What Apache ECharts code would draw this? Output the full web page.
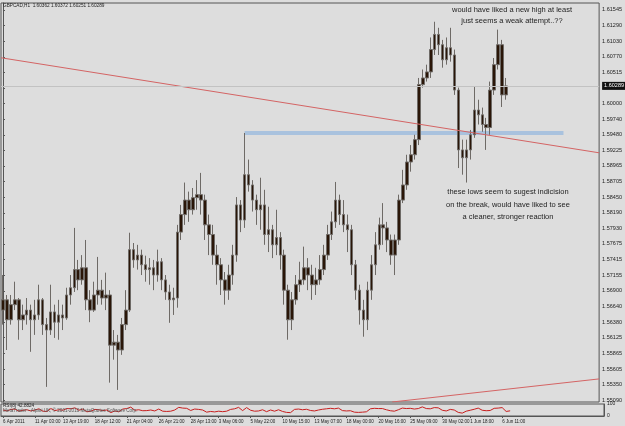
<!DOCTYPE html>
<html>
<head>
<meta charset="utf-8">
<script src="https://cdn.jsdelivr.net/npm/echarts@6/dist/echarts.min.js"></script>
<style>
  html, body { margin: 0; padding: 0; background: #dddddd; }
  #chart { width: 625px; height: 426px; }
</style>
</head>
<body>
<div id="chart"></div>
<script>
const candles = [
  [1.5658, 1.5675, 1.5634, 1.5716], [1.5675, 1.5642, 1.5592, 1.5683], [1.5642, 1.5667, 1.5634, 1.5683],
  [1.5667, 1.5675, 1.5658, 1.5705], [1.5675, 1.5642, 1.5609, 1.5678], [1.5642, 1.5650, 1.5625, 1.5667],
  [1.5650, 1.5658, 1.5634, 1.5678], [1.5658, 1.5642, 1.5589, 1.5667], [1.5642, 1.5650, 1.5617, 1.5675],
  [1.5650, 1.5675, 1.5642, 1.5700], [1.5675, 1.5634, 1.5617, 1.5678], [1.5634, 1.5625, 1.5531, 1.5645],
  [1.5625, 1.5655, 1.5617, 1.5700], [1.5655, 1.5638, 1.5612, 1.5667], [1.5638, 1.5650, 1.5609, 1.5675],
  [1.5650, 1.5645, 1.5625, 1.5667], [1.5645, 1.5683, 1.5642, 1.5695], [1.5683, 1.5695, 1.5667, 1.5716],
  [1.5695, 1.5725, 1.5688, 1.5794], [1.5725, 1.5708, 1.5691, 1.5741], [1.5708, 1.5728, 1.5700, 1.5749],
  [1.5728, 1.5675, 1.5658, 1.5774], [1.5675, 1.5658, 1.5638, 1.5691], [1.5658, 1.5683, 1.5655, 1.5705],
  [1.5683, 1.5691, 1.5667, 1.5746], [1.5691, 1.5678, 1.5667, 1.5708], [1.5678, 1.5683, 1.5658, 1.5720],
  [1.5683, 1.5600, 1.5538, 1.5691], [1.5600, 1.5605, 1.5576, 1.5625], [1.5605, 1.5592, 1.5526, 1.5617],
  [1.5592, 1.5634, 1.5584, 1.5645], [1.5634, 1.5658, 1.5625, 1.5691], [1.5658, 1.5758, 1.5655, 1.5786],
  [1.5758, 1.5741, 1.5728, 1.5769], [1.5741, 1.5749, 1.5725, 1.5766], [1.5749, 1.5733, 1.5716, 1.5758],
  [1.5733, 1.5725, 1.5705, 1.5748], [1.5725, 1.5728, 1.5700, 1.5744], [1.5728, 1.5716, 1.5691, 1.5741],
  [1.5716, 1.5738, 1.5705, 1.5758], [1.5738, 1.5708, 1.5691, 1.5744], [1.5708, 1.5688, 1.5675, 1.5716],
  [1.5688, 1.5675, 1.5637, 1.5700], [1.5675, 1.5678, 1.5650, 1.5695], [1.5678, 1.5787, 1.5662, 1.5799],
  [1.5787, 1.5816, 1.5774, 1.5832], [1.5816, 1.5840, 1.5799, 1.5869], [1.5840, 1.5824, 1.5804, 1.5854],
  [1.5824, 1.5844, 1.5816, 1.5860], [1.5844, 1.5849, 1.5824, 1.5873], [1.5849, 1.5840, 1.5816, 1.5885],
  [1.5840, 1.5799, 1.5774, 1.5849], [1.5799, 1.5783, 1.5749, 1.5816], [1.5783, 1.5749, 1.5733, 1.5799],
  [1.5749, 1.5733, 1.5700, 1.5766], [1.5733, 1.5708, 1.5683, 1.5744], [1.5708, 1.5691, 1.5667, 1.5721],
  [1.5691, 1.5716, 1.5675, 1.5733], [1.5716, 1.5749, 1.5700, 1.5766], [1.5749, 1.5832, 1.5738, 1.5845],
  [1.5832, 1.5807, 1.5787, 1.5840], [1.5807, 1.5882, 1.5794, 1.5951], [1.5882, 1.5865, 1.5854, 1.5907],
  [1.5865, 1.5840, 1.5821, 1.5873], [1.5840, 1.5824, 1.5799, 1.5849], [1.5824, 1.5832, 1.5791, 1.5877],
  [1.5832, 1.5783, 1.5766, 1.5857], [1.5783, 1.5791, 1.5754, 1.5829], [1.5791, 1.5766, 1.5744, 1.5799],
  [1.5766, 1.5778, 1.5749, 1.5824], [1.5778, 1.5749, 1.5725, 1.5787], [1.5749, 1.5691, 1.5667, 1.5758],
  [1.5691, 1.5642, 1.5609, 1.5700], [1.5642, 1.5675, 1.5625, 1.5688], [1.5675, 1.5700, 1.5667, 1.5716],
  [1.5700, 1.5708, 1.5688, 1.5738], [1.5708, 1.5728, 1.5700, 1.5763], [1.5728, 1.5716, 1.5691, 1.5744],
  [1.5716, 1.5700, 1.5675, 1.5733], [1.5700, 1.5708, 1.5683, 1.5728], [1.5708, 1.5725, 1.5700, 1.5749],
  [1.5725, 1.5749, 1.5716, 1.5766], [1.5749, 1.5783, 1.5741, 1.5799], [1.5783, 1.5804, 1.5774, 1.5821],
  [1.5804, 1.5840, 1.5794, 1.5870], [1.5840, 1.5816, 1.5799, 1.5849], [1.5816, 1.5799, 1.5787, 1.5840],
  [1.5799, 1.5791, 1.5754, 1.5816], [1.5791, 1.5733, 1.5716, 1.5799], [1.5733, 1.5691, 1.5675, 1.5741],
  [1.5691, 1.5658, 1.5634, 1.5700], [1.5658, 1.5642, 1.5614, 1.5675], [1.5642, 1.5691, 1.5625, 1.5705],
  [1.5691, 1.5733, 1.5675, 1.5749], [1.5733, 1.5766, 1.5716, 1.5787], [1.5766, 1.5799, 1.5758, 1.5811],
  [1.5799, 1.5794, 1.5766, 1.5835], [1.5794, 1.5774, 1.5754, 1.5804], [1.5774, 1.5749, 1.5733, 1.5783],
  [1.5749, 1.5774, 1.5716, 1.5783], [1.5774, 1.5840, 1.5766, 1.5849], [1.5840, 1.5865, 1.5835, 1.5890],
  [1.5865, 1.5903, 1.5857, 1.5915], [1.5903, 1.5915, 1.5887, 1.5931], [1.5915, 1.5940, 1.5907, 1.5948],
  [1.5940, 1.6031, 1.5931, 1.6042], [1.6031, 1.6042, 1.6026, 1.6056], [1.6042, 1.6052, 1.6036, 1.6064],
  [1.6052, 1.6089, 1.6042, 1.6109], [1.6089, 1.6114, 1.6080, 1.6135], [1.6114, 1.6097, 1.6080, 1.6125],
  [1.6097, 1.6072, 1.6059, 1.6105], [1.6072, 1.6092, 1.6064, 1.6109], [1.6092, 1.6080, 1.6069, 1.6125],
  [1.6080, 1.6022, 1.6014, 1.6089], [1.6022, 1.5923, 1.5893, 1.6026], [1.5923, 1.5910, 1.5882, 1.5940],
  [1.5910, 1.5923, 1.5869, 1.5940], [1.5923, 1.5948, 1.5907, 1.5956], [1.5948, 1.5989, 1.5943, 1.6027],
  [1.5989, 1.5981, 1.5965, 1.6006], [1.5981, 1.5965, 1.5953, 1.5993], [1.5965, 1.5960, 1.5923, 1.5976],
  [1.5960, 1.6022, 1.5948, 1.6036], [1.6022, 1.6064, 1.6014, 1.6075], [1.6064, 1.6097, 1.6056, 1.6122],
  [1.6097, 1.6014, 1.5994, 1.6105], [1.6014, 1.60289, 1.6006, 1.6042]
]

// RSI sub-window, one value per candle
const rsi = [
  50, 42, 55, 58, 40, 48, 52, 42, 50, 60, 40, 38, 62, 45, 52, 48, 62, 60, 68, 48,
  58, 35, 40, 55, 52, 45, 50, 28, 42, 35, 58, 62, 74, 48, 52, 44, 45, 50, 42, 58,
  40, 38, 40, 50, 72, 66, 64, 46, 58, 55, 50, 32, 38, 34, 40, 36, 40, 55, 60, 72,
  45, 70, 48, 40, 42, 52, 36, 50, 40, 52, 38, 30, 28, 55, 58, 52, 56, 46, 42, 50,
  56, 60, 64, 60, 66, 45, 42, 44, 32, 30, 32, 35, 60, 64, 62, 62, 52, 44, 40, 52,
  66, 62, 64, 58, 62, 76, 62, 60, 70, 68, 48, 42, 55, 50, 30, 24, 40, 48, 56, 66,
  48, 44, 46, 64, 66, 70, 38, 43
]

const priceTicks = [
  1.61545, 1.61290, 1.61030, 1.60770, 1.60515, 1.60255, 1.60000, 1.59740, 1.59480,
  1.59225, 1.58965, 1.58705, 1.58450, 1.58190, 1.57930, 1.57675, 1.57415, 1.57155,
  1.56900, 1.56640, 1.56380, 1.56125, 1.55865, 1.55605, 1.55350, 1.55090
]
const timeTicks = [0, 8, 15, 23, 31, 39, 47, 54, 62, 70, 78, 86, 94, 102, 110, 117, 125]
const timeLabels = [
  '6 Apr 2011', '11 Apr 03:00', '13 Apr 19:00', '18 Apr 12:00', '21 Apr 04:00', '26 Apr 21:00',
  '28 Apr 13:00', '3 May 06:00', '5 May 22:00', '10 May 15:00', '13 May 07:00', '18 May 00:00',
  '20 May 16:00', '25 May 09:00', '30 May 02:00', '1 Jun 18:00', '6 Jun 11:00'
]

const lastPrice = 1.60289
// drawn objects, as [candle index, price]
const resistance = [[61, 1.5951], [141.5, 1.5951]]
const trendUpper = [[-0.5, 1.60754], [150.5, 1.59182]]
const trendLower = [[98.25, 1.5506], [150.5, 1.55442]]

const slotCount = 151
const slots = Array.from({ length: slotCount }, (_, i) => String(i))
const font = 'Liberation Sans'

const chart = echarts.init(document.getElementById('chart'), null, { renderer: 'canvas' })

const tickLabel = (v, i) => {
  const k = timeTicks.indexOf(i)
  return k < 0 ? '' : timeLabels[k]
}

chart.setOption({
  animation: false,
  backgroundColor: '#dddddd',
  title: [
    {
      text: 'GBPCAD,H1  1.60362 1.60372 1.60251 1.60289',
      left: 3, top: 3, padding: 0,
      textStyle: { fontSize: 4.7, fontWeight: 'normal', color: '#222', fontFamily: font }
    },
    {
      text: 'would have liked a new high at least\njust seems a weak attempt..??',
      left: 512, top: 4, padding: 0, textAlign: 'center',
      textStyle: { fontSize: 7.5, lineHeight: 11, fontWeight: 'normal', color: '#1e1e1e', fontFamily: font }
    },
    {
      text: 'these lows seem to sugest indicision\non the break, would have liked to see\na cleaner, stronger reaction',
      left: 508, top: 186, padding: 0, textAlign: 'center',
      textStyle: { fontSize: 7.5, lineHeight: 12.5, fontWeight: 'normal', color: '#1e1e1e', fontFamily: font }
    },
    {
      text: 'RSI(8) 42.8824',
      left: 3, top: 403, padding: 0,
      textStyle: { fontSize: 4.6, fontWeight: 'normal', color: '#222', fontFamily: font }
    },
    {
      text: 'MetaTrader - Alpari UK, \u00a9 2001-2010 MetaQuotes Software Corp.',
      left: 3, top: 408, padding: 0,
      textStyle: { fontSize: 4.6, fontWeight: 'normal', color: '#555', fontFamily: font }
    }
  ],
  grid: [
    { left: 1, right: 21, top: 3, height: 399, show: true, borderColor: '#555', borderWidth: 1 },
    { left: 1, right: 21, top: 404, height: 12, show: true, borderColor: '#555', borderWidth: 1 }
  ],
  xAxis: [
    {
      type: 'category', gridIndex: 0, data: slots, boundaryGap: true,
      axisLine: { show: false }, axisTick: { show: false }, axisLabel: { show: false },
      splitLine: { show: false }
    },
    { type: 'value', gridIndex: 0, min: -0.5, max: slotCount - 0.5, show: false },
    {
      type: 'category', gridIndex: 1, data: slots, boundaryGap: true,
      axisLine: { lineStyle: { color: '#555' } },
      axisTick: { show: true, length: 2, interval: (i) => timeTicks.includes(i), alignWithLabel: true, lineStyle: { color: '#555' } },
      axisLabel: {
        interval: (i) => timeTicks.includes(i), formatter: tickLabel, align: 'left', margin: 3,
        fontSize: 4.5, color: '#222', fontFamily: font
      },
      splitLine: { show: false }
    }
  ],
  yAxis: [
    {
      type: 'value', gridIndex: 0, position: 'right', min: 1.5506, max: 1.6166,
      axisLine: { show: true, lineStyle: { color: '#555' } },
      axisTick: { show: true, length: 2, customValues: priceTicks, lineStyle: { color: '#555' } },
      axisLabel: {
        customValues: priceTicks, formatter: (v) => v.toFixed(5), margin: 3,
        fontSize: 5.5, color: '#222', fontFamily: font
      },
      splitLine: { show: false }
    },
    {
      type: 'value', gridIndex: 1, position: 'right', min: 0, max: 100,
      axisLine: { show: true, lineStyle: { color: '#555' } },
      axisTick: { show: false },
      axisLabel: {
        customValues: [100, 0], margin: 3, fontSize: 5, color: '#222', fontFamily: font
      },
      splitLine: { show: false }
    }
  ],
  series: [
    {
      type: 'line', xAxisIndex: 1, yAxisIndex: 0, data: resistance, symbol: 'none', z: 1,
      lineStyle: { color: '#a9c2de', width: 4 }
    },
    {
      type: 'candlestick', xAxisIndex: 0, yAxisIndex: 0, data: candles, barWidth: 3, z: 2,
      itemStyle: {
        color: '#2a1608', color0: '#2a1608',
        borderColor: '#6e6a66', borderColor0: '#6e6a66', borderWidth: 1
      }
    },
    {
      type: 'line', xAxisIndex: 1, yAxisIndex: 0, data: trendUpper, symbol: 'none', z: 3,
      lineStyle: { color: '#d46464', width: 1 },
      markLine: {
        symbol: 'none', silent: true, precision: 5,
        data: [{ yAxis: lastPrice }],
        lineStyle: { color: '#c2c2c2', type: 'solid', width: 1 },
        label: {
          position: 'end', formatter: lastPrice.toFixed(5), distance: 3,
          backgroundColor: '#111', color: '#fff', fontSize: 5.5, padding: [1, 2], fontFamily: font
        }
      }
    },
    {
      type: 'line', xAxisIndex: 1, yAxisIndex: 0, data: trendLower, symbol: 'none', z: 3,
      lineStyle: { color: '#d46464', width: 1 }
    },
    {
      type: 'line', xAxisIndex: 2, yAxisIndex: 1, data: rsi, symbol: 'none',
      lineStyle: { color: '#c81e1e', width: 1 }
    }
  ]
})
</script>
</body>
</html>
